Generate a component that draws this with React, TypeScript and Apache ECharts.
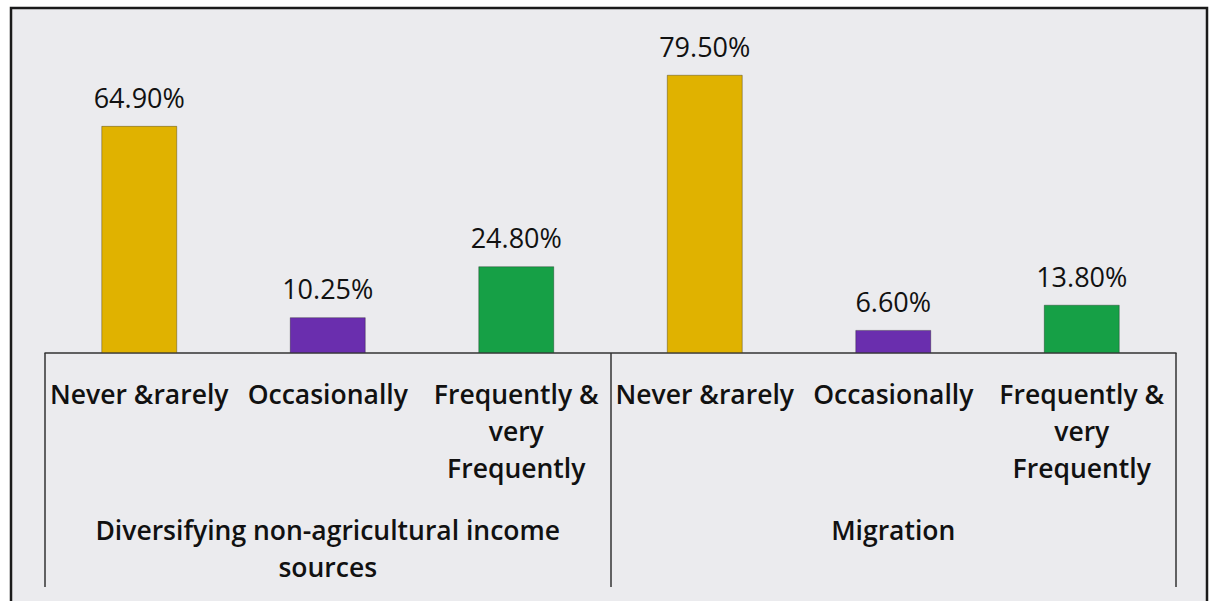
import React, { useEffect, useRef } from "react";
import * as echarts from "echarts";

const categories = [
  "Never &rarely",
  "Occasionally",
  "Frequently &\nvery\nFrequently",
  "Never &rarely",
  "Occasionally",
  "Frequently &\nvery\nFrequently",
];
const groups = ["Diversifying non-agricultural income\nsources", "Migration"];
const values = [64.9, 10.25, 24.8, 79.5, 6.6, 13.8];
const palette = ["#E0B200", "#6A2EAE", "#16A046", "#E0B200", "#6A2EAE", "#16A046"];

const FONT = "'Open Sans', 'Noto Sans', sans-serif";

export default function App() {
  const ref = useRef<HTMLDivElement>(null);
  useEffect(() => {
    document.body.style.margin = "0";
    const chart = echarts.init(ref.current!, undefined, { renderer: "svg" });
    chart.setOption({
      animation: false,
      backgroundColor: "#ffffff",
      graphic: [
        {
          type: "rect",
          z: -10,
          shape: { x: 11, y: 8, width: 1196, height: 600 },
          style: { fill: "#EBEBEE", stroke: "#1a1a1a", lineWidth: 2.5 },
        },
      ],
      grid: { left: 45, right: 34, top: 3, bottom: 248, containLabel: false },
      xAxis: [
        {
          type: "category",
          data: categories,
          position: "bottom",
          axisLine: { show: true, lineStyle: { color: "#333", width: 1.5 } },
          axisTick: { show: false },
          axisLabel: {
            interval: 0,
            margin: 22,
            color: "#111",
            fontFamily: FONT,
            fontSize: 26.5,
            fontWeight: 600,
            lineHeight: 37,
          },
        },
        {
          type: "category",
          data: groups,
          position: "bottom",
          axisLine: { show: false },
          axisTick: { show: true, length: 234, lineStyle: { color: "#333", width: 1.5 } },
          axisLabel: {
            interval: 0,
            margin: 158,
            color: "#111",
            fontFamily: FONT,
            fontSize: 26.5,
            fontWeight: 600,
            lineHeight: 37,
          },
        },
      ],
      yAxis: {
        type: "value",
        min: 0,
        max: 100,
        show: false,
        splitLine: { show: false },
      },
      series: [
        {
          type: "bar",
          xAxisIndex: 0,
          barWidth: 76,
          data: values.map((v, i) => ({
            value: v,
            itemStyle: { color: palette[i], borderColor: "rgba(0,0,0,0.3)", borderWidth: 1 },
          })),
          label: {
            show: true,
            position: "top",
            distance: 15,
            color: "#111",
            fontFamily: FONT,
            fontSize: 27,
            fontWeight: 500,
            formatter: (p: any) => p.value.toFixed(2) + "%",
          },
        },
      ],
    });
    return () => chart.dispose();
  }, []);
  return <div ref={ref} style={{ width: 1210, height: 601 }} />;
}
